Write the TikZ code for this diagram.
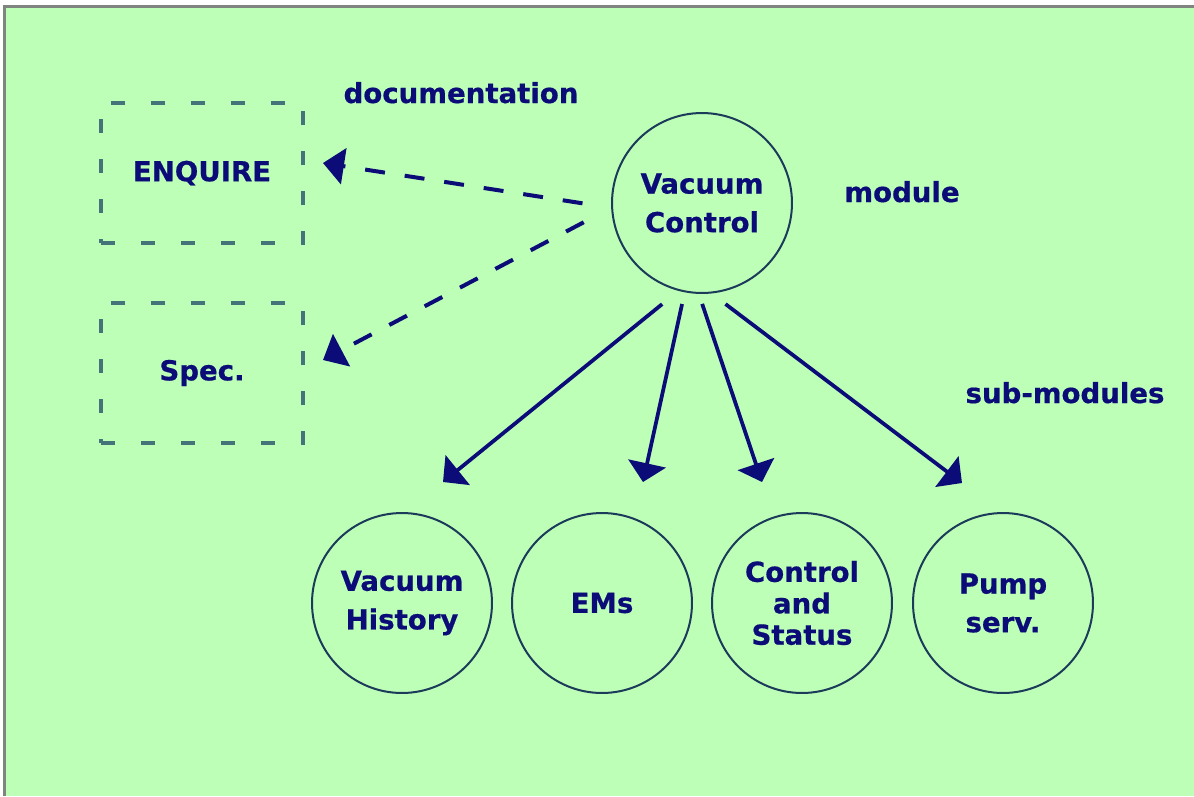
\documentclass[tikz,border=0pt]{standalone}
\usepackage{fontspec}
\setmainfont{DejaVu Sans}[BoldFeatures={FakeBold=0.6}]
\usetikzlibrary{arrows.meta}
\definecolor{bg}{RGB}{189,255,183}
\definecolor{navy}{RGB}{12,12,120}
\definecolor{ringc}{RGB}{28,58,90}
\definecolor{dashc}{RGB}{68,115,122}
\definecolor{framec}{RGB}{128,132,128}
\tikzset{
  txt/.style={text=navy, font=\fontsize{15.7pt}{22pt}\selectfont\bfseries, align=center},
  ring/.style={circle, draw=ringc, line width=0.04cm, minimum size=3.6cm, inner sep=0pt, txt},
  docbox/.style={rectangle, draw=dashc, line width=0.065cm, dash pattern=on 0.28cm off 0.52cm,
    minimum width=4.04cm, minimum height=2.8cm, inner sep=0pt, txt},
  subarrow/.style={-{Triangle[length=0.38cm,width=0.76cm]}, draw=navy, line width=0.075cm},
  docarrow/.style={-{Triangle[length=0.42cm,width=0.72cm]}, draw=navy, line width=0.08cm,
    dash pattern=on 0.4cm off 0.4cm}
}
\begin{document}
\begin{tikzpicture}[x=0.02cm, y=-0.02cm]
\useasboundingbox (0,0) rectangle (1194,796);
\fill[white] (0,0) rectangle (1194,796);
\fill[bg] (5,7) rectangle (1194,796);
\draw[framec, line width=0.06cm] (4.5,796) -- (4.5,6.5) -- (1194,6.5);

% labels
\node[txt, anchor=base] (ldoc) at (461,103) {documentation};
\node[txt, anchor=base] (lmod) at (902,202) {module};
\node[txt, anchor=base] (lsub) at (1065,403) {sub-modules};

% documentation boxes
\node[docbox] (enq) at (202,173) {ENQUIRE};
\node[docbox] (spec) at (202,373) {Spec.};

% module
\node[ring] (vc) at (702,203) {Vacuum\\Control};

% sub-modules
\node[ring] (vh) at (402,603) {Vacuum\\History};
\node[ring] (ems) at (602,603) {EMs};
\node[ring, font=\fontsize{15.7pt}{17.9pt}\selectfont\bfseries] (cs) at (802,603) {Control\\and\\Status};
\node[ring] (ps) at (1003,603) {Pump\\serv.};

% arrow tips
\coordinate (t1) at (443,482);
\coordinate (t2) at (643,482);
\coordinate (t3) at (762,482);
\coordinate (t4) at (962,483);
\coordinate (d1) at (323,163);
\coordinate (d2) at (323,360);

\draw[subarrow, shorten <=0.42cm] (vc.255) -- (t1);
\draw[subarrow, shorten <=0.24cm] (vc.259.5) -- (t2);
\draw[subarrow, shorten <=0.21cm] (vc.268.5) -- (t3);
\draw[subarrow, shorten <=0.35cm] (vc.276) -- (t4);

\draw[docarrow, shorten <=0.58cm] (vc.183) -- (d1);
\draw[docarrow, shorten <=0.62cm] (vc.183) -- (d2);
\end{tikzpicture}
\end{document}
